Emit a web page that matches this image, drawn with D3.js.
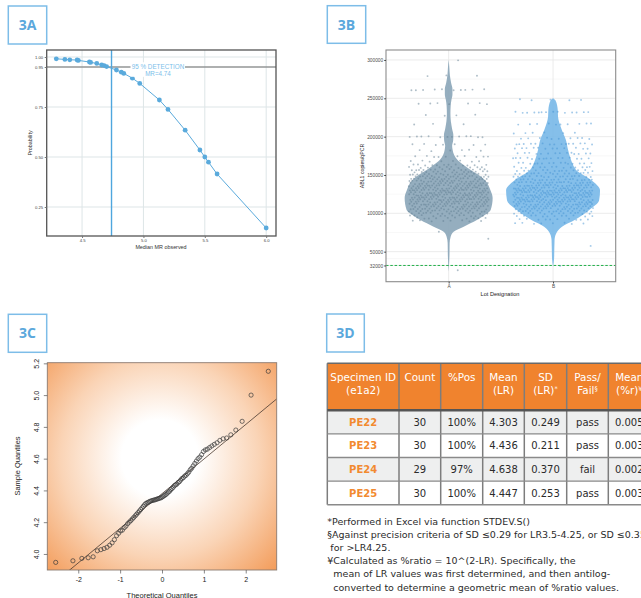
<!DOCTYPE html>
<html>
<head>
<meta charset="utf-8">
<script src="https://cdn.jsdelivr.net/npm/d3@7"></script>
<style>
  body { margin: 0; background: #fff; }
  svg { display: block; }
</style>
</head>
<body>
<script>
// ---------- 3A : probit / detection curve ----------
var mrObserved = [4.29, 4.36, 4.40, 4.46, 4.47, 4.56, 4.57, 4.62, 4.66, 4.68, 4.70, 4.78,
                  4.82, 4.84, 4.91, 4.97, 5.13, 5.20, 5.34, 5.46, 5.50, 5.53, 5.60, 6.00];
var detectProb = [0.991, 0.988, 0.986, 0.985, 0.983, 0.975, 0.973, 0.968, 0.960, 0.957, 0.952, 0.935,
                  0.924, 0.918, 0.894, 0.868, 0.785, 0.738, 0.634, 0.535, 0.500, 0.474, 0.415, 0.145];
var probTicks = [0.25, 0.50, 0.75, 0.95, 1.00];
var mrTicks = [4.5, 5.0, 5.5, 6.0];
var lodMR = 4.74, lodProb = 0.95;

// ---------- 3B : violin + jitter ----------
var lots = ['A', 'B'];
var copyTicks = [32000, 50000, 100000, 150000, 200000, 250000, 300000];
var copyMinor = [41000, 75000, 125000, 175000, 225000, 275000];
var cutoffCopies = 32000;
// [copies, number of replicates at that level]
var lotALevels = [[300000,1],[279000,3],[261000,10],[243000,7],[228000,4],[216000,3],[200000,12],[190000,7],
  [182000,6],[174000,10],[168000,8],[163000,12],[160000,10],[157000,14],[154000,14],[151000,16],[148000,18],
  [145000,18],[142000,20],[139000,20],[136000,22],[133000,22],[130000,24],[127000,24],[124000,24],[121000,24],
  [118000,24],[115000,22],[112000,22],[109000,20],[106000,18],[103000,16],[100000,14],[97000,12],[94000,10],
  [90000,8],[76000,1],[66500,1],[25000,1]];
var lotBLevels = [[248000,5],[231700,14],[216500,10],[205000,6],[197800,10],[190400,15],[184800,12],[178300,14],
  [171700,15],[165200,15],[160000,14],[156000,14],[152000,16],[148000,18],[144000,20],[140000,22],[136500,24],
  [133000,24],[130000,26],[127000,26],[124000,26],[121000,26],[118000,24],[115000,24],[112000,22],[109000,20],
  [106000,18],[103000,16],[100000,14],[96500,12],[92200,10],[87000,8],[57400,1],[30900,1]];
// [copies, relative density]
var violinA = [[300000,0],[290000,0.015],[280000,0.026],[270000,0.053],[262000,0.081],[255000,0.081],
  [248000,0.06],[240000,0.043],[230000,0.038],[220000,0.047],[210000,0.074],[202000,0.1],[195000,0.096],
  [188000,0.074],[182600,0.085],[176000,0.117],[169500,0.19],[163000,0.32],[156500,0.47],[150000,0.64],
  [143400,0.77],[130000,0.89],[120000,0.936],[104300,0.894],[97800,0.77],[91300,0.6],[82600,0.32],
  [76000,0.106],[69500,0.043],[61300,0.021],[45000,0.017],[24000,0]];
var violinB = [[250000,0],[247000,0.053],[234700,0.1],[226000,0.106],[209000,0.185],[196000,0.272],
  [183000,0.319],[169500,0.383],[163000,0.426],[156500,0.49],[143400,0.81],[130000,1.0],[117000,0.98],
  [104300,0.77],[91300,0.46],[82600,0.19],[73500,0.064],[65200,0.032],[40000,0.021],[30000,0]];

// ---------- 3C : normal Q-Q plot ----------
var sampleLR = [3.947,3.957,3.972,3.976,3.982,4.020,4.027,4.034,4.042,4.055,4.070,4.090,4.115,4.130,4.145,
  4.150,4.165,4.175,4.190,4.200,4.210,4.220,4.230,4.240,4.250,4.260,4.270,4.280,4.290,4.300,4.310,4.318,
  4.322,4.326,4.330,4.333,4.336,4.338,4.340,4.342,4.345,4.347,4.350,4.352,4.355,4.360,4.365,4.370,4.375,
  4.383,4.390,4.395,4.405,4.412,4.420,4.430,4.435,4.440,4.450,4.455,4.465,4.475,4.480,4.490,4.495,4.505,
  4.515,4.530,4.540,4.555,4.570,4.585,4.600,4.610,4.625,4.645,4.655,4.660,4.670,4.680,4.690,4.700,4.715,
  4.725,4.730,4.750,4.780,4.835,5.000,5.150];
var theoTicks = [-2, -1, 0, 1, 2];
var sampleTicks = [4.0, 4.2, 4.4, 4.6, 4.8, 5.0, 5.2];

// ---------- 3D : precision table ----------
var headerLines = [['Specimen ID', '(e1a2)'], ['Count'], ['%Pos'], ['Mean', '(LR)'], ['SD', '(LR)', '*'],
                   ['Pass/', 'Fail', '§'], ['Mean', '(%r)', '¥']];
var specimens = ['PE22', 'PE23', 'PE24', 'PE25'];
var counts = [30, 30, 29, 30];
var pctPos = ['100%', '100%', '97%', '100%'];
var meanLR = [4.303, 4.436, 4.638, 4.447];
var sdLR = [0.249, 0.211, 0.370, 0.253];
var passFail = ['pass', 'pass', 'fail', 'pass'];
var meanRatio = [0.005, 0.003, 0.002, 0.003];
var footnotes = ['*Performed in Excel via function STDEV.S()',
  '§Against precision criteria of SD ≤0.29 for LR3.5-4.25, or SD ≤0.35',
  ' for >LR4.25.',
  '¥Calculated as %ratio = 10^(2-LR). Specifically, the',
  '  mean of LR values was first determined, and then antilog-',
  '  converted to determine a geometric mean of %ratio values.'];

var width = 641, height = 598;
var svg = d3.select('body').append('svg')
  .attr('width', width)
  .attr('height', height);

var defs = svg.append('defs');

// blue boxed panel labels
function panelLabel(x, y, w, h, txt) {
  svg.append('rect').attr('x', x).attr('y', y).attr('width', w).attr('height', h)
    .attr('fill', '#fff').attr('stroke', '#7dbde8').attr('stroke-width', 1.5);
  svg.append('text').attr('x', x + w / 2).attr('y', y + h / 2 + 5)
    .attr('text-anchor', 'middle')
    .style('font-family', '"Open Sans", sans-serif').style('font-weight', 700)
    .style('font-size', '14px').attr('fill', '#5ba8dc').text(txt);
}
panelLabel(8.3, 6, 38.4, 38, '3A');
panelLabel(327.3, 5.7, 38.4, 37.6, '3B');
panelLabel(8.3, 314.3, 38.4, 38, '3C');
panelLabel(326.7, 314, 37.6, 38, '3D');

// ================= 3A =================
var xA = d3.scaleLinear().domain([4.212, 6.08]).range([46.7, 276]);
var yA = d3.scaleLinear().domain([0.105, 1.035]).range([236, 50]);
var gA = svg.append('g').style('font-family', '"Liberation Sans", Arial, sans-serif');

gA.selectAll('.vgrid').data(mrTicks).enter().append('line')
  .attr('x1', xA).attr('x2', xA).attr('y1', 50).attr('y2', 236)
  .attr('stroke', '#dde5e7').attr('stroke-width', 1);
gA.selectAll('.hgrid').data(probTicks).enter().append('line')
  .attr('x1', 46.7).attr('x2', 276).attr('y1', yA).attr('y2', yA)
  .attr('stroke', '#dde5e7').attr('stroke-width', 1);

gA.append('line').attr('x1', 46.7).attr('x2', 276).attr('y1', yA(lodProb)).attr('y2', yA(lodProb))
  .attr('stroke', '#6e6e6e').attr('stroke-width', 1.2);
gA.append('line').attr('x1', xA(lodMR)).attr('x2', xA(lodMR)).attr('y1', 50).attr('y2', 236)
  .attr('stroke', '#4fa6de').attr('stroke-width', 1.4);

var ptsA = mrObserved.map(function(d, i) { return [d, detectProb[i]]; });
gA.append('path').datum(ptsA)
  .attr('d', d3.line().x(function(d) { return xA(d[0]); }).y(function(d) { return yA(d[1]); }))
  .attr('fill', 'none').attr('stroke', '#5aaadc').attr('stroke-width', 1);
gA.selectAll('circle').data(ptsA).enter().append('circle')
  .attr('cx', function(d) { return xA(d[0]); })
  .attr('cy', function(d) { return yA(d[1]); })
  .attr('r', 2.4).attr('fill', '#5aaadc');

// annotation label
gA.append('rect').attr('x', 130.5).attr('y', 62.3).attr('width', 54.5).attr('height', 14.5).attr('fill', '#fff');
gA.append('text').attr('x', 158).attr('y', 69).attr('text-anchor', 'middle')
  .style('font-size', '6.3px').attr('fill', '#7cc0ea').text('95 % DETECTION');
gA.append('text').attr('x', 158).attr('y', 75.8).attr('text-anchor', 'middle')
  .style('font-size', '6.3px').attr('fill', '#7cc0ea').text('MR=' + lodMR);

gA.append('rect').attr('x', 46.7).attr('y', 50).attr('width', 229.3).attr('height', 186)
  .attr('fill', 'none').attr('stroke', '#555').attr('stroke-width', 1.3);

var axA_y = gA.append('g').attr('transform', 'translate(46.7,0)')
  .call(d3.axisLeft(yA).tickValues(probTicks).tickFormat(d3.format('.2f')).tickSize(2).tickPadding(1.5));
var axA_x = gA.append('g').attr('transform', 'translate(0,236)')
  .call(d3.axisBottom(xA).tickValues(mrTicks).tickFormat(d3.format('.1f')).tickSize(2).tickPadding(1.5));
[axA_y, axA_x].forEach(function(ax) {
  ax.select('.domain').remove();
  ax.selectAll('line').attr('stroke', '#777');
  ax.selectAll('text').style('font-size', '4.2px').attr('fill', '#444')
    .style('font-family', '"Liberation Sans", Arial, sans-serif');
});
gA.append('text').attr('transform', 'translate(31.5,143) rotate(-90)').attr('text-anchor', 'middle')
  .style('font-size', '5.4px').attr('fill', '#333').text('Probability');
gA.append('text').attr('x', 161).attr('y', 249).attr('text-anchor', 'middle')
  .style('font-size', '5.4px').attr('fill', '#333').text('Median MR observed');

// ================= 3B =================
var yB = d3.scaleLinear().domain([10830, 313000]).range([281.7, 50]);
var xB = d3.scalePoint().domain(lots).range([386, 615.7]).padding(0.6);
var wB = d3.scaleLinear().domain([0, 1]).range([0, 47]);
var gB = svg.append('g').style('font-family', '"Liberation Sans", Arial, sans-serif');

gB.append('rect').attr('x', 386).attr('y', 50).attr('width', 229.7).attr('height', 231.7).attr('fill', '#fff');
gB.selectAll('.minor').data(copyMinor).enter().append('line')
  .attr('x1', 386).attr('x2', 615.7).attr('y1', yB).attr('y2', yB)
  .attr('stroke', '#f3f3f3').attr('stroke-width', 0.6);
gB.selectAll('.major').data(copyTicks).enter().append('line')
  .attr('x1', 386).attr('x2', 615.7).attr('y1', yB).attr('y2', yB)
  .attr('stroke', '#e6e6e6').attr('stroke-width', 0.8);
gB.selectAll('.vmajor').data(lots).enter().append('line')
  .attr('x1', xB).attr('x2', xB).attr('y1', 50).attr('y2', 281.7)
  .attr('stroke', '#e6e6e6').attr('stroke-width', 0.8);

var lotColor = { A: '#8aa5b8', B: '#78b8e8' };
var dotColor = { A: '#5f7d92', B: '#4593d4' };

var seq = 0;
function jitterPoints(levels, lot) {
  var out = [];
  levels.forEach(function(l) {
    for (var k = 0; k < l[1]; k++) {
      seq++;
      out.push({ lot: lot, v: l[0], u: (seq * 0.6180339887) % 1, w: (seq * 0.7548776662) % 1 });
    }
  });
  return out;
}
var pointsB = jitterPoints(lotALevels, 'A').concat(jitterPoints(lotBLevels, 'B'));

var violinArea = function(lot) {
  return d3.area()
    .curve(d3.curveMonotoneY)
    .y(function(d) { return yB(d[0]); })
    .x0(function(d) { return xB(lot) - wB(d[1]); })
    .x1(function(d) { return xB(lot) + wB(d[1]); });
};
gB.append('path').datum(violinA).attr('d', violinArea('A'))
  .attr('fill', lotColor.A).attr('fill-opacity', 0.9);
gB.append('path').datum(violinB).attr('d', violinArea('B'))
  .attr('fill', lotColor.B).attr('fill-opacity', 0.9);

gB.selectAll('.jit').data(pointsB).enter().append('circle')
  .attr('cx', function(d) { return xB(d.lot) + (d.u - 0.5) * 80; })
  .attr('cy', function(d) { return yB(d.v) + (d.w - 0.5) * 1.4; })
  .attr('r', 0.95)
  .attr('fill', function(d) { return dotColor[d.lot]; })
  .attr('fill-opacity', 0.5);

gB.append('line').attr('x1', 386).attr('x2', 615.7)
  .attr('y1', yB(cutoffCopies)).attr('y2', yB(cutoffCopies))
  .attr('stroke', '#22b04a').attr('stroke-width', 1).attr('stroke-dasharray', '2.5,1.8');

gB.append('rect').attr('x', 386).attr('y', 50).attr('width', 229.7).attr('height', 231.7)
  .attr('fill', 'none').attr('stroke', '#8c8c8c').attr('stroke-width', 1.1);

var axB_y = gB.append('g').attr('transform', 'translate(386,0)')
  .call(d3.axisLeft(yB).tickValues(copyTicks).tickFormat(d3.format('d')).tickSize(1.8).tickPadding(1));
var axB_x = gB.append('g').attr('transform', 'translate(0,281.7)')
  .call(d3.axisBottom(xB).tickSize(1.8).tickPadding(1.5));
[axB_y, axB_x].forEach(function(ax) {
  ax.select('.domain').remove();
  ax.selectAll('line').attr('stroke', '#444');
  ax.selectAll('text').style('font-size', '4.8px').attr('fill', '#4d4d4d')
    .style('font-family', '"Liberation Sans", Arial, sans-serif');
});
gB.append('text').attr('x', 500).attr('y', 295.5).attr('text-anchor', 'middle')
  .style('font-size', '5.6px').attr('fill', '#222').text('Lot Designation');
gB.append('text').attr('transform', 'translate(363.5,166) rotate(-90)').attr('text-anchor', 'middle')
  .style('font-size', '5.2px').attr('fill', '#222').text('ABL1 copies/qPCR');

// ================= 3C =================
function qnorm(p) {
  var a = [-3.969683028665376e+01, 2.209460984245205e+02, -2.759285104469687e+02, 1.383577518672690e+02, -3.066479806614716e+01, 2.506628277459239e+00];
  var b = [-5.447609879822406e+01, 1.615858368580409e+02, -1.556989798598866e+02, 6.680131188771972e+01, -1.328068155288572e+01];
  var c = [-7.784894002430293e-03, -3.223964580411365e-01, -2.400758277161838e+00, -2.549732539343734e+00, 4.374664141464968e+00, 2.938163982698783e+00];
  var d = [7.784695709041462e-03, 3.224671290700398e-01, 2.445134137142996e+00, 3.754408661907416e+00];
  var pl = 0.02425, q, r;
  if (p < pl) {
    q = Math.sqrt(-2 * Math.log(p));
    return (((((c[0]*q+c[1])*q+c[2])*q+c[3])*q+c[4])*q+c[5]) / ((((d[0]*q+d[1])*q+d[2])*q+d[3])*q+1);
  }
  if (p > 1 - pl) return -qnorm(1 - p);
  q = p - 0.5; r = q * q;
  return (((((a[0]*r+a[1])*r+a[2])*r+a[3])*r+a[4])*r+a[5])*q / (((((b[0]*r+b[1])*r+b[2])*r+b[3])*r+b[4])*r+1);
}

var xC = d3.scaleLinear().domain([-2.74, 2.74]).range([47.3, 276.7]);
var yC = d3.scaleLinear().domain([3.899, 5.204]).range([570, 362.7]);
var gC = svg.append('g').style('font-family', '"Liberation Sans", Arial, sans-serif');

var grad = defs.append('radialGradient').attr('id', 'qqbg')
  .attr('gradientUnits', 'userSpaceOnUse').attr('cx', 160).attr('cy', 458).attr('r', 160);
grad.append('stop').attr('offset', 0).attr('stop-color', '#ffffff');
grad.append('stop').attr('offset', 0.24).attr('stop-color', '#ffffff');
grad.append('stop').attr('offset', 0.62).attr('stop-color', '#fad4b6');
grad.append('stop').attr('offset', 1).attr('stop-color', '#f39d5c');
defs.append('clipPath').attr('id', 'clipC').append('rect')
  .attr('x', 47.3).attr('y', 362.7).attr('width', 229.4).attr('height', 207.3);

gC.append('rect').attr('x', 47.3).attr('y', 362.7).attr('width', 229.4).attr('height', 207.3)
  .attr('fill', 'url(#qqbg)');

var sorted = sampleLR.slice().sort(d3.ascending);
var n = sorted.length;
var qq = sorted.map(function(v, i) { return [qnorm((i + 0.5) / n), v]; });

// qqline through the 1st and 3rd quartiles
var q1 = d3.quantile(sorted, 0.25), q3 = d3.quantile(sorted, 0.75);
var z = qnorm(0.75);
var slope = (q3 - q1) / (2 * z), intercept = q1 + z * slope;
gC.append('line').attr('clip-path', 'url(#clipC)')
  .attr('x1', xC(-3)).attr('y1', yC(intercept - 3 * slope))
  .attr('x2', xC(3)).attr('y2', yC(intercept + 3 * slope))
  .attr('stroke', '#4a3a30').attr('stroke-width', 0.8);

gC.selectAll('circle').data(qq).enter().append('circle')
  .attr('cx', function(d) { return xC(d[0]); })
  .attr('cy', function(d) { return yC(d[1]); })
  .attr('r', 2.1).attr('fill', 'none').attr('stroke', '#3a3a3a').attr('stroke-width', 0.7);

gC.append('rect').attr('x', 47.3).attr('y', 362.7).attr('width', 229.4).attr('height', 207.3)
  .attr('fill', 'none').attr('stroke', '#8a7a70').attr('stroke-width', 0.9);

var axC_x = gC.append('g').attr('transform', 'translate(0,570)')
  .call(d3.axisBottom(xC).tickValues(theoTicks).tickFormat(d3.format('d')).tickSize(3.5).tickPadding(4));
var axC_y = gC.append('g').attr('transform', 'translate(47.3,0)')
  .call(d3.axisLeft(yC).tickValues(sampleTicks).tickFormat(d3.format('.1f')).tickSize(3.5).tickPadding(4));
[axC_x, axC_y].forEach(function(ax) {
  ax.select('.domain').remove();
  ax.selectAll('line').attr('stroke', '#555').attr('stroke-width', 0.7);
  ax.selectAll('text').style('font-size', '7px').attr('fill', '#222')
    .style('font-family', '"Liberation Sans", Arial, sans-serif');
});
axC_x.selectAll('text').text(function(d) { return d < 0 ? '-' + Math.abs(d) : d; });
axC_y.selectAll('.tick text')
  .attr('transform', 'rotate(-90)').attr('x', 0).attr('y', -8.5).attr('dy', 0)
  .attr('text-anchor', 'middle');
gC.append('text').attr('transform', 'translate(20,466) rotate(-90)').attr('text-anchor', 'middle')
  .style('font-size', '7.5px').attr('fill', '#222').text('Sample Quantiles');
gC.append('text').attr('x', 162).attr('y', 597.5).attr('text-anchor', 'middle')
  .style('font-size', '7.5px').attr('fill', '#222').text('Theoretical Quantiles');

// ================= 3D =================
var colWidths = [71.7, 41.7, 42, 41.6, 42.4, 41.6, 42];
var colX = [327.3];
colWidths.forEach(function(w, i) { colX.push(colX[i] + w); });
var headTop = 363.3, headH = 47, rowH = 23.6;
var gD = svg.append('g').style('font-family', '"DejaVu Sans", Verdana, sans-serif');

var rows = specimens.map(function(s, i) {
  return [s, counts[i], pctPos[i], meanLR[i].toFixed(3), sdLR[i].toFixed(3), passFail[i], meanRatio[i].toFixed(3)];
});

gD.append('rect').attr('x', colX[0]).attr('y', headTop).attr('width', colX[7] - colX[0]).attr('height', headH)
  .attr('fill', '#f0832e');
rows.forEach(function(r, i) {
  var y0 = headTop + headH + i * rowH;
  gD.append('rect').attr('x', colX[0]).attr('y', y0).attr('width', colX[7] - colX[0]).attr('height', rowH)
    .attr('fill', i % 2 === 0 ? '#eeefef' : '#ffffff');
  r.forEach(function(cell, j) {
    gD.append('text').attr('x', (colX[j] + colX[j + 1]) / 2).attr('y', y0 + rowH / 2 + 3.7)
      .attr('text-anchor', 'middle')
      .style('font-size', '10px')
      .style('font-weight', j === 0 ? 700 : 400)
      .attr('fill', j === 0 ? '#f28a30' : '#2b2b2b')
      .text(cell);
  });
});

headerLines.forEach(function(h, j) {
  var cx = (colX[j] + colX[j + 1]) / 2;
  gD.append('text').attr('x', cx).attr('y', headTop + 17.5).attr('text-anchor', 'middle')
    .style('font-size', '10.4px').attr('fill', '#fff').text(h[0]);
  if (h.length > 1) {
    var t2 = gD.append('text').attr('x', cx).attr('y', headTop + 31).attr('text-anchor', 'middle')
      .style('font-size', '10.4px').attr('fill', '#fff');
    t2.append('tspan').text(h[1]);
    if (h[2]) t2.append('tspan').attr('dy', -3.5).style('font-size', '6.5px').text(h[2]);
  }
});

// cell borders
colX.forEach(function(x) {
  gD.append('line').attr('x1', x).attr('x2', x).attr('y1', headTop).attr('y2', headTop + headH + 4 * rowH)
    .attr('stroke', '#7d7d7d').attr('stroke-width', 1.5);
});
for (var k = 1; k <= 4; k++) {
  gD.append('line').attr('x1', colX[0]).attr('x2', colX[7])
    .attr('y1', headTop + headH + k * rowH).attr('y2', headTop + headH + k * rowH)
    .attr('stroke', '#8a8a8a').attr('stroke-width', 1.4);
}
gD.append('line').attr('x1', colX[0]).attr('x2', colX[7]).attr('y1', headTop).attr('y2', headTop)
  .attr('stroke', '#6a6a6a').attr('stroke-width', 1.5);
gD.append('line').attr('x1', colX[0]).attr('x2', colX[7]).attr('y1', headTop + headH).attr('y2', headTop + headH)
  .attr('stroke', '#555').attr('stroke-width', 2.6);

gD.selectAll('.fn').data(footnotes).enter().append('text')
  .attr('x', 327.3).attr('y', function(d, i) { return 525 + i * 13.1; })
  .style('font-size', '9.5px').style('white-space', 'pre').attr('fill', '#2b2b2b')
  .text(function(d) { return d; });
</script>
</body>
</html>
